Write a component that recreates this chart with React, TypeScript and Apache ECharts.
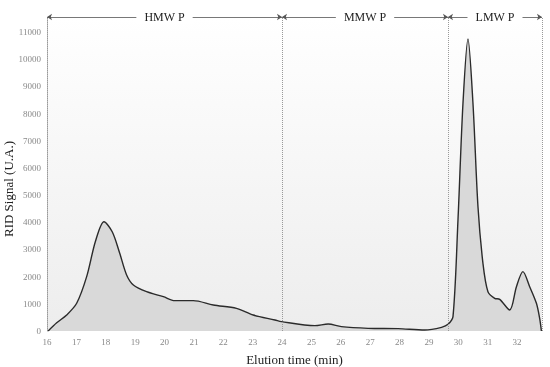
import React, { useEffect, useRef } from "react";
import * as echarts from "echarts";

const timeMin = [16.04, 16.33, 16.67, 17.01, 17.35, 17.65, 17.94, 18.22, 18.47, 18.71, 18.94, 19.39, 19.96, 20.35, 20.98, 21.66, 22.45, 23.02, 23.76, 23.98, 25.12, 25.57, 26.02, 26.93, 27.95, 28.86, 29.43, 29.65, 29.82, 29.99, 30.16, 30.33, 30.5, 30.67, 30.84, 31.01, 31.24, 31.41, 31.75, 31.98, 32.2, 32.43, 32.66, 32.77, 32.83];
const signal = [0, 300, 590, 1020, 2000, 3300, 4020, 3650, 2880, 2060, 1692, 1447, 1263, 1116, 1116, 957, 834, 589, 405, 343, 196, 257, 160, 98, 86, 37, 135, 245, 527, 4084, 8377, 10743, 8377, 4580, 2490, 1447, 1202, 1165, 773, 1631, 2183, 1631, 1018, 467, 0];

const regionNames = ["HMW P", "MMW P", "LMW P"];
const regionBounds = [16, 24, 29.65, 32.85];

const serif = "'Liberation Serif', 'DejaVu Serif', serif";

export default function App() {
  const ref = useRef<HTMLDivElement>(null);
  useEffect(() => {
    if (!ref.current) return;
    const chart = echarts.init(ref.current, undefined, { renderer: "svg" });
    const data = timeMin.map((t, i) => [t, signal[i]]);
    const yTop = 11550;
    const arrowLines = regionNames.map((n, i) => [
      { coord: [regionBounds[i], yTop], name: n },
      { coord: [regionBounds[i + 1], yTop] },
    ]);
    const vLines = [24, 29.65, 32.85].map((x) => ({ xAxis: x }));
    chart.setOption({
      animation: false,
      grid: {
        left: 47,
        right: 8,
        top: 17,
        bottom: 36,
        containLabel: false,
        outerBoundsMode: "none",
        show: true,
        borderWidth: 0,
        backgroundColor: new echarts.graphic.LinearGradient(0, 0, 0, 1, [
          { offset: 0, color: "#ffffff" },
          { offset: 1, color: "#ededed" },
        ]),
      },
      xAxis: {
        type: "value",
        min: 16,
        max: 32.85,
        interval: 1,
        name: "Elution time (min)",
        nameLocation: "middle",
        nameGap: 22,
        nameMoveOverlap: false,
        nameTextStyle: { fontFamily: serif, fontSize: 13, color: "#222" },
        axisLine: { show: false },
        axisTick: { show: false },
        splitLine: { show: false },
        axisLabel: {
          fontFamily: serif,
          fontSize: 9,
          color: "#888",
          margin: 6,
          showMaxLabel: false,
          formatter: (v: number) => (Number.isInteger(v) ? String(v) : ""),
        },
      },
      yAxis: {
        type: "value",
        min: 0,
        max: yTop,
        interval: 1000,
        name: "RID Signal (U.A.)",
        nameLocation: "middle",
        nameGap: 32,
        nameMoveOverlap: false,
        nameTextStyle: { fontFamily: serif, fontSize: 13, color: "#222", padding: [0, 30, 0, 0] },
        axisLine: { show: true, lineStyle: { color: "#999", type: [1, 1], width: 1 } },
        axisTick: { show: false },
        splitLine: { show: false },
        axisLabel: {
          fontFamily: serif,
          fontSize: 9,
          color: "#888",
          margin: 6,
          formatter: (v: number) => (v % 1000 === 0 && v <= 11000 ? String(v) : ""),
        },
      },
      series: [
        {
          type: "line",
          data,
          smooth: 0.3,
          symbol: "none",
          lineStyle: { color: "#2b2b2b", width: 1.4 },
          areaStyle: { color: "#d9d9d9", opacity: 1 },
          markLine: {
            silent: true,
            symbol: "none",
            animation: false,
            lineStyle: { color: "#999", type: [1, 1], width: 1 },
            label: { show: false },
            data: vLines,
          },
          z: 2,
        },
        {
          type: "line",
          data: [],
          markLine: {
            silent: true,
            symbol: ["arrow", "arrow"],
            symbolSize: [5, 5],
            animation: false,
            lineStyle: { color: "#555", type: "solid", width: 0.8 },
            label: {
              show: true,
              position: "insideMiddle",
              distance: 0,
              formatter: "{b}",
              fontFamily: serif,
              fontSize: 12,
              color: "#222",
              backgroundColor: "#fff",
              padding: [1, 8],
            },
            data: arrowLines,
          },
        },
      ],
    });
    return () => chart.dispose();
  }, []);
  return (
    <div
      ref={ref}
      style={{ position: "fixed", left: 0, top: 0, width: 550, height: 367 }}
    />
  );
}
